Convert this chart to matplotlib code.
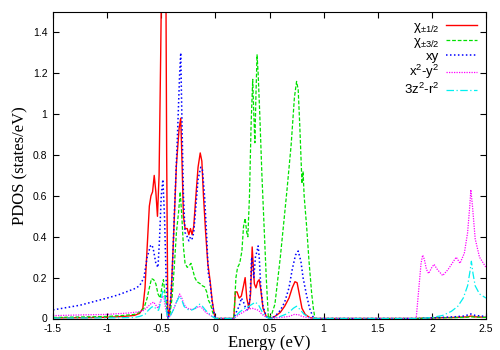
import matplotlib
matplotlib.use("Agg")
import matplotlib.pyplot as plt

# chi +-1/2 (red)
E_red = [-1.5, -1.2, -1.0, -0.85, -0.75, -0.7, -0.67, -0.65, -0.63, -0.61, -0.595, -0.58, -0.565, -0.55,
         -0.535, -0.52, -0.505, -0.49, -0.475, -0.46, -0.45, -0.44, -0.43, -0.41, -0.39, -0.36, -0.335,
         -0.32, -0.31, -0.295, -0.28, -0.26, -0.245, -0.23, -0.215, -0.2, -0.18, -0.16, -0.14, -0.125,
         -0.11, -0.09, -0.07, -0.05, -0.03, -0.01, 0.0, 0.17, 0.185, 0.2, 0.22, 0.24, 0.26, 0.275, 0.29,
         0.31, 0.325, 0.34, 0.35, 0.36, 0.375, 0.39, 0.405, 0.42, 0.44, 0.47, 0.5, 0.55, 0.6, 0.64, 0.68,
         0.71, 0.735, 0.755, 0.775, 0.8, 0.83, 0.87, 0.92, 1.85, 2.0, 2.2, 2.33, 2.36, 2.4, 2.5]
D_red = [0.003, 0.004, 0.006, 0.01, 0.015, 0.025, 0.05, 0.15, 0.35, 0.55, 0.6, 0.62, 0.7, 0.62,
         0.5, 0.7, 1.3, 2.0, 2.6, 2.0, 0.8, 0.05, 0.01, 0.1, 0.35, 0.75, 0.93,
         0.98, 0.8, 0.5, 0.44, 0.44, 0.41, 0.44, 0.41, 0.45, 0.6, 0.74, 0.81, 0.77,
         0.6, 0.42, 0.27, 0.19, 0.09, 0.02, 0.0, 0.0, 0.13, 0.13, 0.1, 0.11, 0.16, 0.2, 0.1,
         0.05, 0.12, 0.35, 0.26, 0.17, 0.15, 0.18, 0.19, 0.14, 0.05, 0.01, 0.0, 0.01, 0.03, 0.06, 0.1,
         0.15, 0.18, 0.175, 0.12, 0.05, 0.02, 0.005, 0.0, 0.0, 0.003, 0.005, 0.008, 0.012, 0.008, 0.006]

# chi +-3/2 (green)
E_grn = [-1.5, -1.2, -1.0, -0.85, -0.75, -0.7, -0.66, -0.63, -0.61, -0.59, -0.57, -0.55, -0.53, -0.51,
         -0.495, -0.48, -0.465, -0.45, -0.44, -0.42, -0.4, -0.38, -0.36, -0.34, -0.325, -0.31, -0.295,
         -0.28, -0.26, -0.24, -0.225, -0.21, -0.19, -0.17, -0.14, -0.12, -0.1, -0.08, -0.065, -0.045,
         -0.025, 0.0, 0.17, 0.18, 0.19, 0.205, 0.225, 0.245, 0.26, 0.275, 0.29, 0.3, 0.315, 0.33, 0.345,
         0.355, 0.365, 0.375, 0.385, 0.395, 0.41, 0.43, 0.45, 0.47, 0.485, 0.49, 0.52, 0.55, 0.6, 0.66,
         0.7, 0.73, 0.75, 0.765, 0.78, 0.8, 0.81, 0.82, 0.843, 0.865, 0.889, 0.905, 0.92, 1.85, 2.0,
         2.3, 2.36, 2.5]
D_grn = [0.005, 0.008, 0.01, 0.015, 0.02, 0.03, 0.05, 0.1, 0.15, 0.195, 0.19, 0.17, 0.12, 0.1,
         0.15, 0.19, 0.12, 0.06, 0.0, 0.02, 0.1, 0.25, 0.42, 0.52, 0.62, 0.5, 0.35,
         0.27, 0.25, 0.26, 0.27, 0.24, 0.2, 0.18, 0.17, 0.16, 0.155, 0.13, 0.09, 0.07,
         0.03, 0.0, 0.0, 0.1, 0.2, 0.25, 0.27, 0.33, 0.45, 0.49, 0.42, 0.4, 0.6, 0.95, 1.17,
         1.0, 0.86, 1.1, 1.29, 1.2, 1.0, 0.7, 0.45, 0.2, 0.05, 0.0, 0.02, 0.07, 0.3, 0.62,
         0.85, 1.08, 1.16, 1.12, 0.94, 0.66, 0.72, 0.6, 0.45, 0.28, 0.126, 0.05, 0.0, 0.0, 0.003,
         0.005, 0.008, 0.005]

# xy (blue)
E_blu = [-1.5, -1.25, -1.0, -0.9, -0.8, -0.75, -0.7, -0.66, -0.63, -0.6, -0.585, -0.57, -0.55, -0.53,
         -0.515, -0.5, -0.485, -0.47, -0.455, -0.44, -0.42, -0.4, -0.38, -0.35, -0.33, -0.32, -0.31,
         -0.295, -0.28, -0.26, -0.245, -0.23, -0.215, -0.2, -0.18, -0.16, -0.135, -0.12, -0.1, -0.08,
         -0.065, -0.05, -0.03, -0.01, 0.0, 0.17, 0.2, 0.22, 0.24, 0.26, 0.28, 0.3, 0.32, 0.335, 0.345,
         0.355, 0.37, 0.385, 0.395, 0.405, 0.42, 0.44, 0.47, 0.5, 0.55, 0.6, 0.64, 0.68, 0.71, 0.74,
         0.765, 0.79, 0.81, 0.84, 0.87, 0.9, 0.93, 1.85, 2.0, 2.2, 2.3, 2.36, 2.4, 2.5]
D_blu = [0.042, 0.065, 0.1, 0.115, 0.135, 0.145, 0.16, 0.2, 0.3, 0.355, 0.36, 0.33, 0.27, 0.25,
         0.4, 0.6, 0.68, 0.5, 0.2, 0.0, 0.05, 0.2, 0.5, 0.9, 1.2, 1.3, 1.0,
         0.6, 0.42, 0.4, 0.38, 0.4, 0.39, 0.42, 0.55, 0.68, 0.74, 0.73, 0.6, 0.4,
         0.22, 0.18, 0.08, 0.02, 0.0, 0.0, 0.04, 0.06, 0.1, 0.08, 0.05, 0.04, 0.1, 0.3, 0.25,
         0.2, 0.3, 0.33, 0.355, 0.3, 0.15, 0.06, 0.01, 0.0, 0.01, 0.04, 0.08, 0.15, 0.24, 0.31,
         0.33, 0.28, 0.2, 0.12, 0.05, 0.01, 0.0, 0.0, 0.003, 0.008, 0.012, 0.022, 0.015, 0.01]

# x2-y2 (magenta)
E_mag = [-1.5, -1.2, -1.0, -0.8, -0.7, -0.66, -0.62, -0.59, -0.57, -0.55, -0.53, -0.51, -0.49, -0.475,
         -0.46, -0.44, -0.42, -0.39, -0.36, -0.33, -0.31, -0.29, -0.27, -0.24, -0.21, -0.18, -0.15,
         -0.12, -0.09, -0.06, -0.03, 0.0, 0.17, 0.22, 0.27, 0.3, 0.34, 0.37, 0.4, 0.43, 0.46, 0.5, 0.6,
         0.68, 0.73, 0.77, 0.8, 0.85, 0.9, 1.855, 1.88, 1.9, 1.915, 1.93, 1.95, 1.97, 2.0, 2.02, 2.05,
         2.1, 2.15, 2.2, 2.225, 2.26, 2.3, 2.33, 2.35, 2.36, 2.375, 2.4, 2.44, 2.5]
D_mag = [0.014, 0.018, 0.02, 0.027, 0.033, 0.04, 0.06, 0.075, 0.08, 0.065, 0.05, 0.08, 0.11, 0.1,
         0.05, 0.0, 0.01, 0.04, 0.08, 0.12, 0.1, 0.07, 0.055, 0.045, 0.045, 0.05, 0.06,
         0.05, 0.03, 0.02, 0.01, 0.0, 0.0, 0.02, 0.035, 0.045, 0.05, 0.045, 0.04, 0.02, 0.01, 0.0, 0.005,
         0.01, 0.02, 0.018, 0.01, 0.005, 0.0, 0.0, 0.15, 0.27, 0.31, 0.29, 0.24, 0.22, 0.25, 0.265, 0.24,
         0.21, 0.24, 0.28, 0.3, 0.27, 0.32, 0.42, 0.55, 0.63, 0.55, 0.39, 0.3, 0.25]

# 3z2-r2 (cyan)
E_cyn = [-1.5, -1.0, -0.75, -0.7, -0.65, -0.62, -0.59, -0.57, -0.545, -0.525, -0.505, -0.485, -0.47,
         -0.455, -0.44, -0.42, -0.39, -0.36, -0.33, -0.31, -0.29, -0.26, -0.23, -0.2, -0.17, -0.145,
         -0.12, -0.09, -0.06, -0.03, 0.0, 0.17, 0.22, 0.27, 0.31, 0.34, 0.37, 0.4, 0.43, 0.46, 0.5, 0.6,
         0.67, 0.72, 0.75, 0.78, 0.82, 0.87, 0.92, 1.9, 2.0, 2.1, 2.18, 2.24, 2.29, 2.33, 2.355, 2.365,
         2.38, 2.4, 2.44, 2.5]
D_cyn = [0.002, 0.003, 0.005, 0.01, 0.02, 0.04, 0.055, 0.06, 0.045, 0.04, 0.08, 0.14, 0.12,
         0.05, 0.0, 0.01, 0.04, 0.08, 0.11, 0.09, 0.06, 0.045, 0.04, 0.045, 0.06, 0.07,
         0.06, 0.04, 0.025, 0.01, 0.0, 0.0, 0.03, 0.05, 0.06, 0.07, 0.08, 0.065, 0.035, 0.01, 0.0, 0.01,
         0.025, 0.05, 0.06, 0.045, 0.02, 0.005, 0.0, 0.0, 0.005, 0.015, 0.035, 0.06, 0.1, 0.16, 0.24, 0.28,
         0.22, 0.16, 0.12, 0.1]

labels = ["\u03c7$_{\\pm1/2}$", "\u03c7$_{\\pm3/2}$", "xy", "x$^2$-y$^2$", "3z$^2$-r$^2$"]
xticks = [-1.5, -1, -0.5, 0, 0.5, 1, 1.5, 2, 2.5]
xticklabels = ["-1.5", "-1", "-0.5", "0", "0.5", "1", "1.5", "2", "2.5"]
yticks = [0, 0.2, 0.4, 0.6, 0.8, 1.0, 1.2, 1.4]
yticklabels = ["0", "0.2", "0.4", "0.6", "0.8", "1", "1.2", "1.4"]

plt.rcParams['font.family'] = ['Liberation Sans', 'DejaVu Sans']
plt.rcParams['mathtext.fontset'] = 'custom'
plt.rcParams['mathtext.rm'] = 'Liberation Sans'
plt.rcParams['mathtext.it'] = 'Liberation Sans'

fig = plt.figure(figsize=(5, 3.5), dpi=100)
ax = fig.add_axes([0.106, 0.09, 0.866, 0.876])

ax.plot(E_red, D_red, color='#ff0000', lw=1.0, ls='-', label=labels[0])
ax.plot(E_grn, D_grn, color='#00e000', lw=0.9, ls=(0, (3, 1.5)), label=labels[1])
ax.plot(E_blu, D_blu, color='#0000ff', lw=1.1, ls=(0, (1, 1.6)), label=labels[2])
ax.plot(E_mag, D_mag, color='#ff00ff', lw=0.9, ls=(0, (1, 1)), label=labels[3])
ax.plot(E_cyn, D_cyn, color='#00f0f0', lw=0.9, ls=(0, (6, 2, 1, 2)), label=labels[4])

ax.set_xlim(-1.5, 2.5)
ax.set_ylim(0, 1.5)
ax.set_xticks(xticks)
ax.set_xticklabels(xticklabels, fontsize=7.5)
ax.set_yticks(yticks)
ax.set_yticklabels(yticklabels, fontsize=7.5)
ax.tick_params(direction='in', top=True, right=True, length=4, width=0.8, pad=4)
for s in ax.spines.values():
    s.set_linewidth(0.8)

ax.set_xlabel("Energy (eV)", family='Liberation Serif', fontsize=12, labelpad=1)
ax.set_ylabel("PDOS (states/eV)", family='Liberation Serif', fontsize=12, labelpad=3)

leg = ax.legend(loc='upper right', frameon=False, markerfirst=False, fontsize=9.5,
                handlelength=2.4, labelspacing=0.05, borderaxespad=0.25, handletextpad=0.5)

fig.savefig("out.png", dpi=100)
